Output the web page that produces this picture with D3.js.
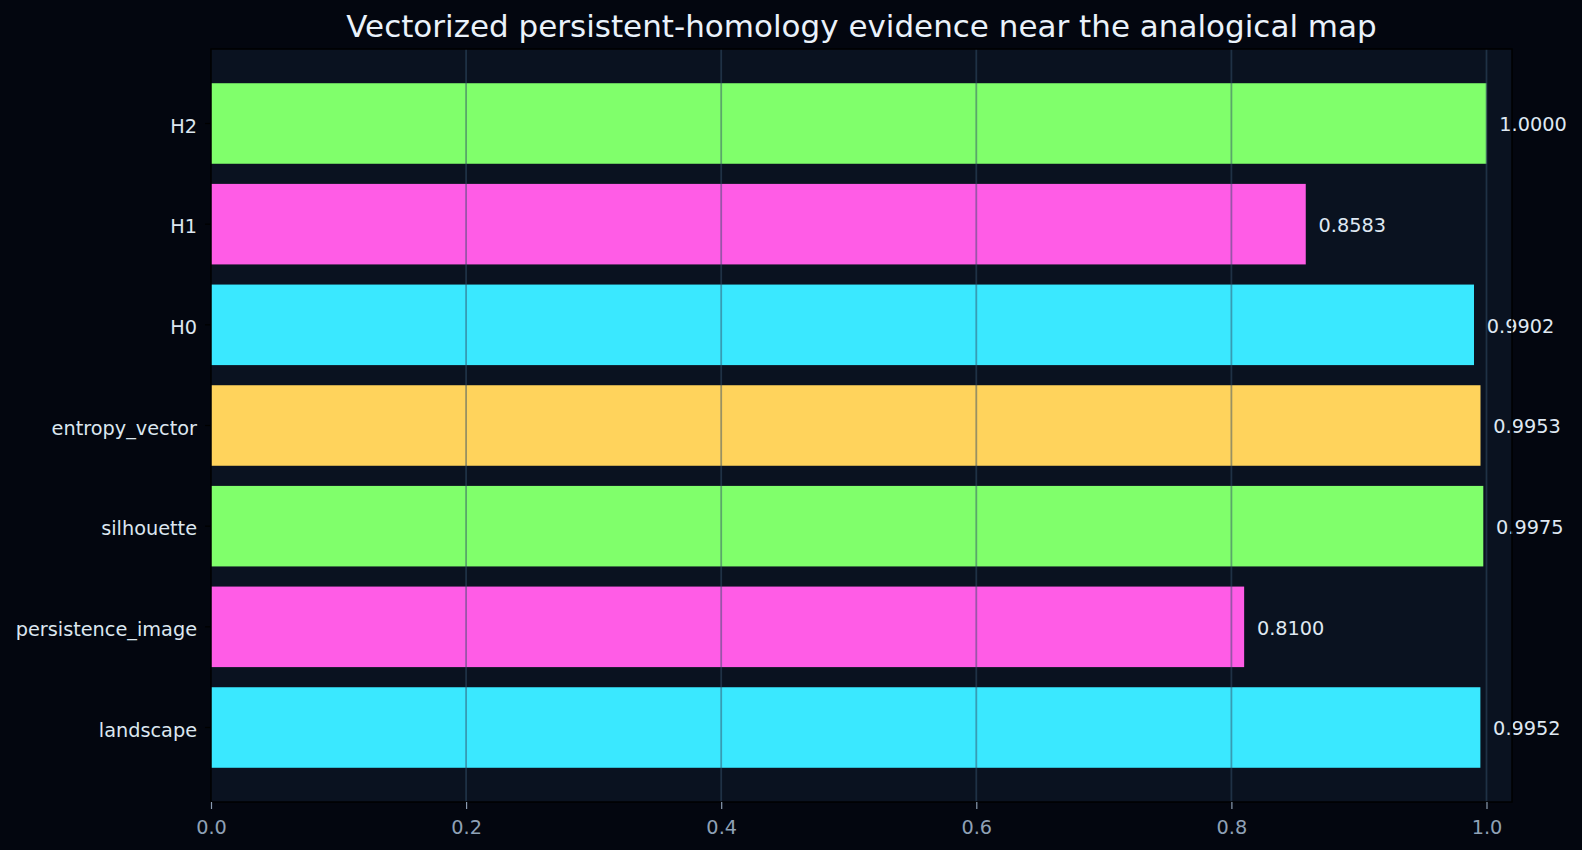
<!DOCTYPE html>
<html>
<head>
<meta charset="utf-8">
<script src="https://cdn.jsdelivr.net/npm/d3@7"></script>
<style>
  html, body { margin: 0; padding: 0; background: #03060f; }
  svg { display: block; font-family: "DejaVu Sans", sans-serif; }
</style>
</head>
<body>
<div id="chart"></div>
<script>
// data, top to bottom as drawn
const categories = ['H2', 'H1', 'H0', 'entropy_vector', 'silhouette', 'persistence_image', 'landscape']
const values = [1.0000, 0.8583, 0.9902, 0.9953, 0.9975, 0.8100, 0.9952]
const barColors = ['#80ff6b', '#ff5ce6', '#3ae8ff', '#ffd35c', '#80ff6b', '#ff5ce6', '#3ae8ff']
const xTicks = [0.0, 0.2, 0.4, 0.6, 0.8, 1.0]
const title = 'Vectorized persistent-homology evidence near the analogical map'

const width = 1582, height = 850
const margin = {top: 49, right: 70, bottom: 48, left: 211}
const iw = width - margin.left - margin.right
const ih = height - margin.top - margin.bottom
const fs = 19.3

let svg = d3.select('#chart').append('svg')
  .attr('width', width)
  .attr('height', height)

svg.append('rect').attr('width', width).attr('height', height).attr('fill', '#03060f')

let g = svg.append('g').attr('transform', `translate(${margin.left},${margin.top})`)

let x = d3.scaleLinear().domain([0, 1.02]).range([0, iw])
let y = d3.scaleBand().domain(categories).range([0, ih]).paddingInner(0.2).paddingOuter(0.34)

g.append('rect').attr('width', iw).attr('height', ih).attr('fill', '#0a1220')

let rows = categories.map((c, i) => ({cat: c, value: values[i], color: barColors[i]}))

g.append('g').selectAll('rect')
  .data(rows)
  .enter()
  .append('rect')
  .attr('x', x(0))
  .attr('y', d => y(d.cat))
  .attr('width', d => x(d.value) - x(0))
  .attr('height', y.bandwidth())
  .attr('fill', d => d.color)

// grid on top of the bars
g.append('g').selectAll('line')
  .data(xTicks.slice(1))
  .enter()
  .append('line')
  .attr('x1', d => x(d)).attr('x2', d => x(d))
  .attr('y1', 0).attr('y2', ih)
  .attr('stroke', '#34506a')
  .attr('stroke-opacity', 0.5)
  .attr('stroke-width', 1.8)

// value labels
g.append('g').selectAll('text')
  .data(rows)
  .enter()
  .append('text')
  .attr('x', d => x(d.value + 0.01))
  .attr('y', d => y(d.cat) + y.bandwidth() / 2)
  .attr('dy', '0.4em')
  .attr('fill', '#dfe8f2')
  .attr('font-size', fs)
  .text(d => d.value.toFixed(4))

// spines
g.append('rect').attr('width', iw).attr('height', ih)
  .attr('fill', 'none').attr('stroke', '#000000').attr('stroke-width', 1.5)

// x axis
let xAxis = g.append('g')
  .attr('transform', `translate(0,${ih})`)
  .call(d3.axisBottom(x).tickValues(xTicks).tickFormat(d3.format('.1f')).tickSize(7).tickPadding(11))
xAxis.select('.domain').remove()
xAxis.selectAll('line').attr('stroke', '#8a9bb0').attr('stroke-width', 1.2)
xAxis.selectAll('text').attr('fill', '#8fa1b6').attr('font-size', fs).attr('font-family', 'DejaVu Sans')

// y axis
let yAxis = g.append('g')
  .call(d3.axisLeft(y).tickSize(6).tickPadding(8))
yAxis.select('.domain').remove()
yAxis.selectAll('line').attr('stroke', '#000000').attr('stroke-width', 1.2)
yAxis.selectAll('text').attr('fill', '#dce6f0').attr('font-size', fs).attr('font-family', 'DejaVu Sans').attr('dy', '0.48em')

svg.append('text')
  .attr('x', margin.left + iw / 2)
  .attr('y', 37)
  .attr('text-anchor', 'middle')
  .attr('fill', '#eaf2fb')
  .attr('font-size', 31)
  .text(title)
</script>
</body>
</html>
